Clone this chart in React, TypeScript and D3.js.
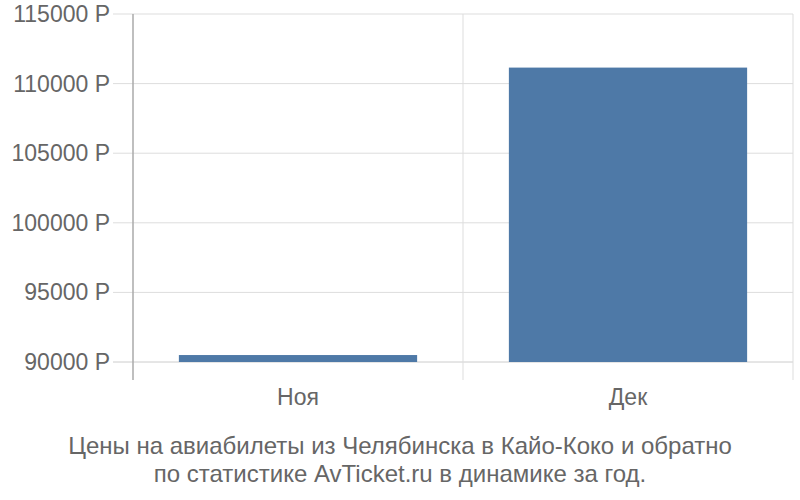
import { useEffect, useRef } from 'react';
import * as d3 from 'd3';

const months: string[] = ['Ноя', 'Дек'];
const prices: number[] = [90500, 111150];
const yTicks: number[] = [90000, 95000, 100000, 105000, 110000, 115000];
const titleLines: string[] = [
    'Цены на авиабилеты из Челябинска в Кайо-Коко и обратно',
    'по статистике AvTicket.ru в динамике за год.',
];

const App: React.FC = () => {
    const svgRef = useRef<SVGSVGElement>(null);

    useEffect(() => {
        const svg = d3.select(svgRef.current);
        svg.selectAll('*').remove();

        const left = 133;
        const right = 793;
        const top = 14;
        const bottom = 362;
        const axisBottom = 380;
        const font = '"Liberation Sans", Arial, sans-serif';

        const x = d3.scaleBand().domain(months).range([left, right]).padding(0);
        const y = d3.scaleLinear().domain([90000, 115000]).range([bottom, top]);

        // horizontal grid
        svg.append('g')
            .selectAll('line')
            .data(yTicks)
            .enter()
            .append('line')
            .attr('x1', left - 20)
            .attr('x2', right)
            .attr('y1', (d) => y(d))
            .attr('y2', (d) => y(d))
            .attr('stroke', (d) => (d === 90000 ? '#cccccc' : '#dddddd'))
            .attr('stroke-width', 1);

        // vertical grid
        svg.append('g')
            .selectAll('line')
            .data(months)
            .enter()
            .append('line')
            .attr('x1', (d) => (x(d) as number) + x.bandwidth())
            .attr('x2', (d) => (x(d) as number) + x.bandwidth())
            .attr('y1', top)
            .attr('y2', axisBottom)
            .attr('stroke', '#dddddd')
            .attr('stroke-width', 1);

        // y axis line
        svg.append('line')
            .attr('x1', left)
            .attr('x2', left)
            .attr('y1', top)
            .attr('y2', axisBottom)
            .attr('stroke', '#aaaaaa')
            .attr('stroke-width', 1.5);

        // bars
        const inset = x.bandwidth() * 0.139;
        svg.append('g')
            .selectAll('rect')
            .data(months)
            .enter()
            .append('rect')
            .attr('x', (d) => (x(d) as number) + inset)
            .attr('width', x.bandwidth() - inset * 2)
            .attr('y', (_, i) => y(prices[i]))
            .attr('height', (_, i) => bottom - y(prices[i]))
            .attr('fill', '#4e79a7');

        // y labels
        svg.append('g')
            .selectAll('text')
            .data(yTicks)
            .enter()
            .append('text')
            .attr('x', 110)
            .attr('y', (d) => y(d))
            .attr('dy', '0.35em')
            .attr('text-anchor', 'end')
            .attr('font-family', font)
            .attr('font-size', 23)
            .attr('fill', '#666666')
            .text((d) => `${d} Р`);

        // x labels
        svg.append('g')
            .selectAll('text')
            .data(months)
            .enter()
            .append('text')
            .attr('x', (d) => (x(d) as number) + x.bandwidth() / 2)
            .attr('y', 397)
            .attr('dy', '0.35em')
            .attr('text-anchor', 'middle')
            .attr('font-family', font)
            .attr('font-size', 23)
            .attr('fill', '#666666')
            .text((d) => d);

        // title
        svg.append('g')
            .selectAll('text')
            .data(titleLines)
            .enter()
            .append('text')
            .attr('x', 400)
            .attr('y', (_, i) => 446 + i * 28)
            .attr('dy', '0.35em')
            .attr('text-anchor', 'middle')
            .attr('font-family', font)
            .attr('font-size', 24)
            .attr('fill', '#666666')
            .text((d) => d);
    }, []);

    return (
        <svg
            ref={svgRef}
            width={800}
            height={500}
            style={{ position: 'absolute', left: 0, top: 0, background: '#ffffff' }}
        />
    );
};

export default App;
